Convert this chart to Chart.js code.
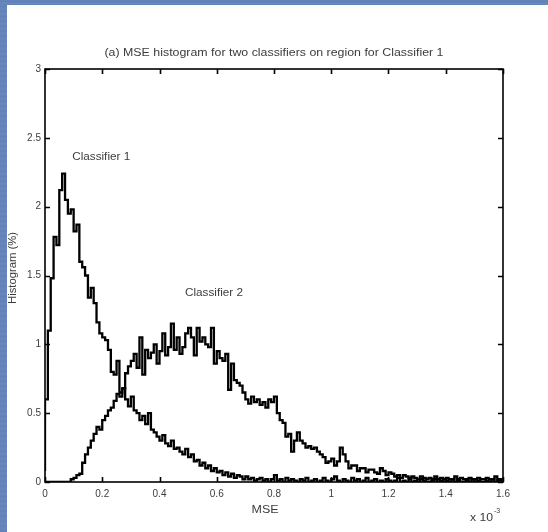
<!DOCTYPE html>
<html>
<head>
<meta charset="utf-8">
<script src="https://cdn.jsdelivr.net/npm/chart.js@4.4.1/dist/chart.umd.min.js"></script>
<style>
  html, body { margin: 0; padding: 0; }
  body {
    width: 548px; height: 532px; overflow: hidden; position: relative;
    background: repeating-linear-gradient(180deg, #6585bb 0px, #5f80b6 2px, #6a8abf 3px, #6384ba 5px);
  }
  #panel { position: absolute; left: 7px; top: 5px; width: 541px; height: 527px; background: #fff; }
  canvas { display: block; }
</style>
</head>
<body>
<div id="panel"><canvas id="msePlot" width="541" height="527"></canvas></div>
<script>
// histogram bins on the MSE axis (units of 1e-3)
const binWidth = 0.01;
const binCount = 160;

const classifier1 = [
  0.08, 0.6, 1.1, 1.48, 1.78, 1.72, 2.12, 2.24, 2.05, 1.95,
  1.98, 1.82, 1.87, 1.6, 1.56, 1.5, 1.34, 1.41, 1.3, 1.16,
  1.08, 1.05, 1.03, 0.96, 0.8, 0.78, 0.88, 0.65, 0.68, 0.6,
  0.55, 0.62, 0.52, 0.5, 0.45, 0.48, 0.42, 0.5, 0.38, 0.36,
  0.33, 0.3, 0.34, 0.28, 0.26, 0.3, 0.24, 0.25, 0.22, 0.2,
  0.24, 0.18, 0.2, 0.15, 0.16, 0.12, 0.14, 0.1, 0.12, 0.08,
  0.1, 0.07, 0.08, 0.05, 0.07, 0.04, 0.06, 0.03, 0.05, 0.04,
  0.02, 0.04, 0.02, 0.03, 0.01, 0.02, 0.03, 0.01, 0.02, 0.0,
  0.02, 0.05, 0.01, 0.02, 0.0, 0.03, 0.01, 0.02, 0.01, 0.0,
  0.02, 0.01, 0.03, 0.0, 0.01, 0.02, 0.0, 0.01, 0.03, 0.01,
  0.0, 0.02, 0.04, 0.01, 0.0, 0.02, 0.01, 0.0, 0.03, 0.01,
  0.02, 0.0, 0.01, 0.03, 0.0, 0.01, 0.02, 0.0, 0.01, 0.0,
  0.02, 0.01, 0.0, 0.01, 0.03, 0.0, 0.01, 0.0, 0.02, 0.0,
  0.01, 0.0, 0.02, 0.01, 0.0, 0.0, 0.01, 0.02, 0.0, 0.01,
  0.0, 0.01, 0.0, 0.02, 0.0, 0.01, 0.0, 0.0, 0.01, 0.0,
  0.02, 0.0, 0.01, 0.0, 0.0, 0.01, 0.0, 0.02, 0.0, 0.01
];

const classifier2 = [
  0, 0, 0, 0, 0, 0, 0, 0, 0, 0,
  0.02, 0.03, 0.05, 0.06, 0.14, 0.2, 0.25, 0.3, 0.35, 0.4,
  0.38, 0.45, 0.48, 0.52, 0.54, 0.59, 0.64, 0.62, 0.68, 0.79,
  0.84, 0.88, 0.93, 0.83, 1.05, 0.78, 0.96, 0.9, 0.94, 1.0,
  0.86, 0.95, 1.08, 0.92, 0.98, 1.15, 0.96, 1.05, 0.93, 0.98,
  1.08, 1.12, 1.05, 0.92, 1.12, 1.02, 1.05, 1.0, 0.98, 1.12,
  0.86, 0.95, 0.9, 0.88, 0.93, 0.67, 0.86, 0.74, 0.72, 0.7,
  0.65, 0.6, 0.57, 0.62, 0.58, 0.6, 0.56, 0.58, 0.54, 0.6,
  0.58, 0.62, 0.5, 0.45, 0.43, 0.33, 0.35, 0.22, 0.3, 0.36,
  0.3, 0.28, 0.25, 0.26, 0.24, 0.25, 0.22, 0.2, 0.18, 0.14,
  0.15, 0.17, 0.12, 0.15, 0.25, 0.2, 0.15, 0.1, 0.12, 0.12,
  0.08, 0.1, 0.1, 0.07, 0.09, 0.09, 0.07, 0.06, 0.1, 0.08,
  0.05, 0.07, 0.06, 0.04, 0.05, 0.03, 0.05, 0.04, 0.03, 0.04,
  0.03, 0.02, 0.04, 0.03, 0.02, 0.03, 0.02, 0.04, 0.02, 0.03,
  0.02, 0.03, 0.02, 0.02, 0.04, 0.02, 0.03, 0.02, 0.02, 0.03,
  0.02, 0.02, 0.03, 0.02, 0.02, 0.03, 0.02, 0.02, 0.04, 0.02
];

const xRange = [0, 1.6];
const yRange = [0, 3];
const xStep = 0.2;
const yStep = 0.5;

const titleText = '(a) MSE histogram for two classifiers on region for Classifier 1';
const FONT = '"Liberation Sans", Arial, sans-serif';
const TEXT_COLOR = '#3c3c3c';

// stairs: one point per bin edge, last value repeated at the right edge
const toSteps = (values) => {
  const pts = values.map((v, i) => ({ x: +(i * binWidth).toFixed(3), y: v }));
  pts.push({ x: +(binCount * binWidth).toFixed(3), y: values[values.length - 1] });
  return pts;
};

// draws text squeezed or stretched to a given width
const fitText = (ctx, text, x, y, width, align) => {
  const w = ctx.measureText(text).width;
  const sx = width / w;
  ctx.save();
  ctx.translate(x, y);
  ctx.scale(sx, 1);
  ctx.textAlign = align;
  ctx.fillText(text, 0, 0);
  ctx.restore();
};

// box, inward ticks on all four sides, and the annotations
const matlabAxes = {
  id: 'matlabAxes',
  afterDatasetsDraw(chart) {
    const { ctx, chartArea: a, scales: { x, y } } = chart;
    const tick = 5;
    ctx.save();
    ctx.strokeStyle = '#000';
    ctx.lineWidth = 1.6;
    ctx.strokeRect(a.left, a.top, a.right - a.left, a.bottom - a.top);
    ctx.beginPath();
    x.ticks.forEach(t => {
      const px = Math.round(x.getPixelForValue(t.value)) + 0.5;
      ctx.moveTo(px, a.bottom); ctx.lineTo(px, a.bottom - tick);
      ctx.moveTo(px, a.top); ctx.lineTo(px, a.top + tick);
    });
    y.ticks.forEach(t => {
      const py = Math.round(y.getPixelForValue(t.value)) + 0.5;
      ctx.moveTo(a.left, py); ctx.lineTo(a.left + tick, py);
      ctx.moveTo(a.right, py); ctx.lineTo(a.right - tick, py);
    });
    ctx.stroke();

    ctx.fillStyle = TEXT_COLOR;
    ctx.textBaseline = 'middle';
    ctx.font = '10px ' + FONT;
    fitText(ctx, titleText, (a.left + a.right) / 2, 48, 339, 'center');

    fitText(ctx, 'Classifier 1', x.getPixelForValue(0.095), y.getPixelForValue(2.36), 58, 'left');
    fitText(ctx, 'Classifier 2', x.getPixelForValue(0.489), y.getPixelForValue(1.37), 58, 'left');
    fitText(ctx, 'MSE', 258, 505, 27, 'center');

    // exponent of the x axis
    fitText(ctx, 'x 10', 463, 513, 23, 'left');
    ctx.font = '7px ' + FONT;
    ctx.fillText('-3', 487, 506);

    // y axis label, rotated
    ctx.font = '10px ' + FONT;
    ctx.save();
    ctx.translate(6, 263);
    ctx.rotate(-Math.PI / 2);
    fitText(ctx, 'Histogram (%)', 0, 0, 72, 'center');
    ctx.restore();
    ctx.restore();
  }
};

const ctx = document.getElementById('msePlot').getContext('2d');
new Chart(ctx, {
  type: 'line',
  data: {
    datasets: [
      { label: 'Classifier 1', data: toSteps(classifier1), stepped: 'after', borderColor: '#000', borderWidth: 2.3, pointRadius: 0, fill: false },
      { label: 'Classifier 2', data: toSteps(classifier2), stepped: 'after', borderColor: '#000', borderWidth: 2.3, pointRadius: 0, fill: false }
    ]
  },
  options: {
    responsive: false,
    animation: false,
    devicePixelRatio: 1,
    layout: { padding: { left: 8, right: 45, top: 64, bottom: 30 } },
    plugins: { legend: { display: false }, tooltip: { enabled: false }, title: { display: false } },
    scales: {
      x: {
        type: 'linear', min: xRange[0], max: xRange[1],
        grid: { display: false, drawTicks: false },
        border: { display: false },
        ticks: {
          stepSize: xStep, padding: 6, color: TEXT_COLOR, maxRotation: 0,
          font: { family: FONT, size: 10 },
          callback: v => String(+v.toFixed(1))
        },
        afterFit: s => { s.height = 20; }
      },
      y: {
        min: yRange[0], max: yRange[1],
        grid: { display: false, drawTicks: false },
        border: { display: false },
        ticks: {
          stepSize: yStep, padding: 4, color: TEXT_COLOR,
          font: { family: FONT, size: 10 },
          callback: v => String(+v.toFixed(1))
        },
        afterFit: s => { s.width = 30; }
      }
    }
  },
  plugins: [matlabAxes]
});
</script>
</body>
</html>
